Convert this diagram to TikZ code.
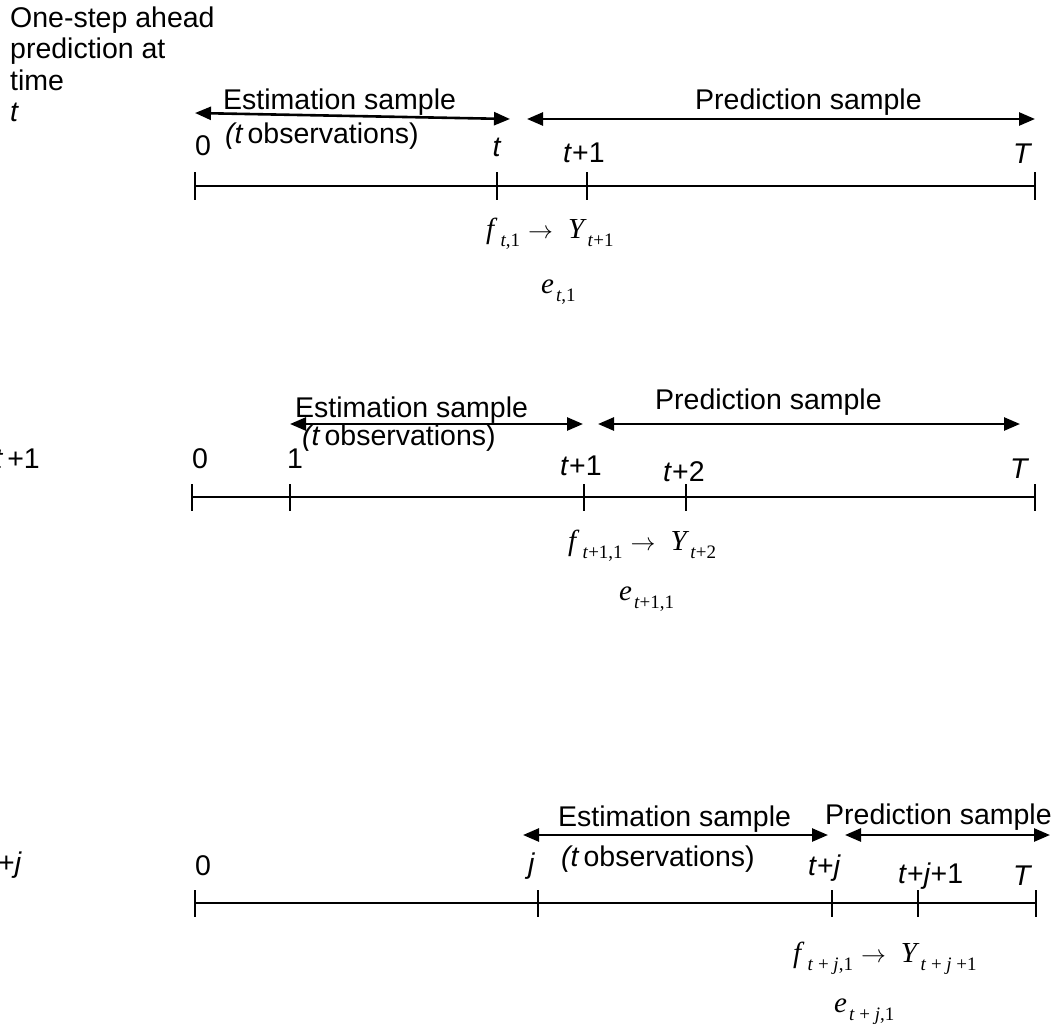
\documentclass[tikz,border=0pt]{standalone}
\usepackage{fontspec}
\setmainfont{Liberation Sans}
\newfontfamily\tms{Liberation Serif}
\usetikzlibrary{arrows.meta}
\newcommand{\lf}{\fontsize{28.5}{31.3}\selectfont}
\newcommand{\sbs}[1]{\raisebox{-8pt}{\fontsize{19}{19}\selectfont #1}}
\newcommand{\mfont}{\tms\fontsize{29}{29}\selectfont}
\newcommand{\marr}{\hspace{8pt}{\fontsize{31}{31}\selectfont$\rightarrow$}\hspace{15pt}}
\begin{document}
\begin{tikzpicture}[x=1pt,y=-1pt,
  lab/.style={inner sep=0pt,anchor=base west,font=\lf},
  fml/.style={inner sep=0pt,anchor=base west,font=\mfont},
  axis/.style={line width=1.9pt},
  tickmark/.style={line width=1.9pt},
  dbl/.style={line width=2.6pt,{Triangle[length=16pt,width=13pt]}-{Triangle[length=16pt,width=13pt]}}]
\useasboundingbox (0,0) rectangle (1058,1031);

% ---------- Row 1 ----------
\node[inner sep=0pt,anchor=north west,font=\lf,align=left] (lt1) at (10,6.7)
  {One-step ahead\\prediction at\\time\\\textit{t}};
\coordinate (e1l) at (195,113);
\coordinate (e1r) at (510,119);
\coordinate (p1l) at (527,119);
\coordinate (p1r) at (1035,119);
\draw[dbl] (e1l) -- (e1r);
\draw[dbl] (p1l) -- (p1r);
\node[lab] (es1) at (223,109) {Estimation sample};
\node[lab] (ob1) at (225,143) {\textit{(t}\kern4pt observations)};
\node[lab] (ps1) at (695,109) {Prediction sample};
\node[lab] (l10) at (195,155) {0};
\node[lab,anchor=base] (l1t) at (497,156) {\textit{t}};
\node[lab] (l1t1) at (563,162) {\textit{t}+1};
\node[lab] (l1T) at (1013,163) {\textit{T}};
\coordinate (a10) at (195,186);
\coordinate (a1t) at (497,186);
\coordinate (a1t1) at (587,186);
\coordinate (a1T) at (1035,186);
\draw[axis] (a10) -- (a1T);
\foreach \c in {a10,a1t,a1t1,a1T} \draw[tickmark] (\c) ++(0,-14) -- ++(0,28);
\node[fml] (f1) at (486,238) {\textit{f}\kern3pt\sbs{\textit{t},1}\marr\textit{Y}\kern1pt\sbs{\textit{t}+1}};
\node[fml] (err1) at (541,293) {\textit{e}\kern2pt\sbs{\textit{t},1}};

% ---------- Row 2 ----------
\node[lab,anchor=base east] (lt2) at (40,468) {\textit{t}\kern4pt+1};
\coordinate (e2l) at (290,424);
\coordinate (e2r) at (583,424);
\coordinate (p2l) at (598,424);
\coordinate (p2r) at (1020,424);
\draw[dbl] (e2l) -- (e2r);
\draw[dbl] (p2l) -- (p2r);
\node[lab] (es2) at (295,417) {Estimation sample};
\node[lab] (ob2) at (302,445) {\textit{(t}\kern4pt observations)};
\node[lab] (ps2) at (655,409) {Prediction sample};
\node[lab] (l20) at (192,468) {0};
\node[lab] (l21) at (287,468) {1};
\node[lab] (l2t1) at (560,475) {\textit{t}+1};
\node[lab] (l2t2) at (663,481) {\textit{t}+2};
\node[lab] (l2T) at (1010,478) {\textit{T}};
\coordinate (a20) at (192,497);
\coordinate (a21) at (290,497);
\coordinate (a2t1) at (584,497);
\coordinate (a2t2) at (686,497);
\coordinate (a2T) at (1035,497);
\draw[axis] (a20) -- (a2T);
\foreach \c in {a20,a21,a2t1,a2t2,a2T} \draw[tickmark] (\c) ++(0,-13) -- ++(0,27);
\node[fml] (f2) at (568,550) {\textit{f}\kern3pt\sbs{\textit{t}+1,1}\marr\textit{Y}\kern1pt\sbs{\textit{t}+2}};
\node[fml] (err2) at (619,600) {\textit{e}\kern2pt\sbs{\textit{t}+1,1}};

% ---------- Row 3 ----------
\node[lab,anchor=base east] (lt3) at (22,872) {\textit{t} +\textit{j}};
\coordinate (e3l) at (523,835);
\coordinate (e3r) at (828,835);
\coordinate (p3l) at (845,835);
\coordinate (p3r) at (1050,835);
\draw[dbl] (e3l) -- (e3r);
\draw[dbl] (p3l) -- (p3r);
\node[lab] (es3) at (558,826) {Estimation sample};
\node[lab] (ob3) at (561,866) {\textit{(t}\kern4pt observations)};
\node[lab] (ps3) at (825,824) {Prediction sample};
\node[lab] (l30) at (195,875) {0};
\node[lab] (l3j) at (528,873) {\textit{j}};
\node[lab] (l3tj) at (808,875) {\textit{t}+\textit{j}};
\node[lab] (l3tj1) at (898,883) {\textit{t}+\textit{j}+1};
\node[lab] (l3T) at (1013,885) {\textit{T}};
\coordinate (a30) at (195,903);
\coordinate (a3j) at (538,903);
\coordinate (a3tj) at (832,903);
\coordinate (a3tj1) at (918,903);
\coordinate (a3T) at (1036,903);
\draw[axis] (a30) -- (a3T);
\foreach \c in {a30,a3j,a3tj,a3tj1,a3T} \draw[tickmark] (\c) ++(0,-13) -- ++(0,27);
\node[fml] (f3) at (793,962) {\textit{f}\kern3pt\sbs{\textit{t} + \textit{j},1}\marr\textit{Y}\kern1pt\sbs{\textit{t} + \textit{j} +1}};
\node[fml] (err3) at (834,1012) {\textit{e}\kern2pt\sbs{\textit{t} + \textit{j},1}};
\end{tikzpicture}
\end{document}
